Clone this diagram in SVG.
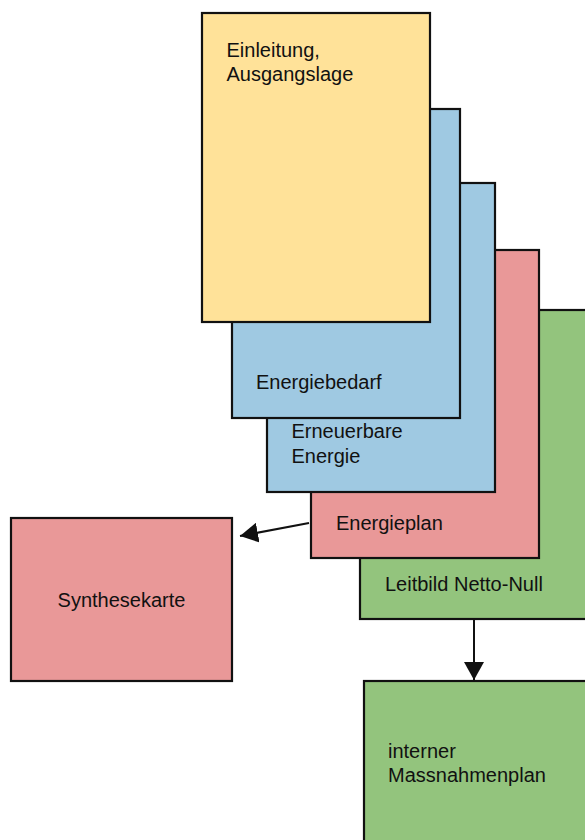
<svg xmlns="http://www.w3.org/2000/svg" width="585" height="840" viewBox="0 0 585 840">
<style>
.box{stroke:#111;stroke-width:2.2}
.y{fill:#FFE299}
.b{fill:#9FC9E2}
.r{fill:#E99898}
.g{fill:#93C47D}
text{font-family:"Liberation Sans",Arial,sans-serif;font-size:20px;fill:#111}
.conn{stroke:#111;stroke-width:2;fill:none}
</style>
<defs>
<marker id="ah" viewBox="0 0 18 20" refX="18" refY="10" markerWidth="18" markerHeight="20" markerUnits="userSpaceOnUse" orient="auto">
<path d="M0,0 L18,10 L0,20 Z" fill="#111"/>
</marker>
</defs>
<g id="n-massnahmenplan"><rect class="box g" x="364" y="681" width="230" height="170"/><text x="388" y="758">interner</text><text x="388" y="782">Massnahmenplan</text></g>
<g id="n-synthesekarte"><rect class="box r" x="11" y="518" width="221" height="163"/><text x="121.5" y="607" text-anchor="middle">Synthesekarte</text></g>
<g id="n-leitbild"><rect class="box g" x="360" y="310" width="240" height="309"/><text x="385" y="591">Leitbild Netto-Null</text></g>
<g id="n-energieplan"><rect class="box r" x="311" y="250" width="228" height="308"/><text x="336" y="530">Energieplan</text></g>
<g id="n-erneuerbare"><rect class="box b" x="267" y="183" width="228" height="309"/><text x="291.5" y="438">Erneuerbare</text><text x="291.5" y="463">Energie</text></g>
<g id="n-energiebedarf"><rect class="box b" x="232" y="109" width="228" height="309"/><text x="256" y="389">Energiebedarf</text></g>
<g id="n-einleitung"><rect class="box y" x="202" y="13" width="228" height="309"/><text x="226.5" y="57">Einleitung,</text><text x="226.5" y="81">Ausgangslage</text></g>
<g id="connectors">
<line class="conn" x1="309" y1="523" x2="240" y2="536" marker-end="url(#ah)"/>
<line class="conn" x1="474" y1="619" x2="474" y2="680" marker-end="url(#ah)"/>
</g>
</svg>
